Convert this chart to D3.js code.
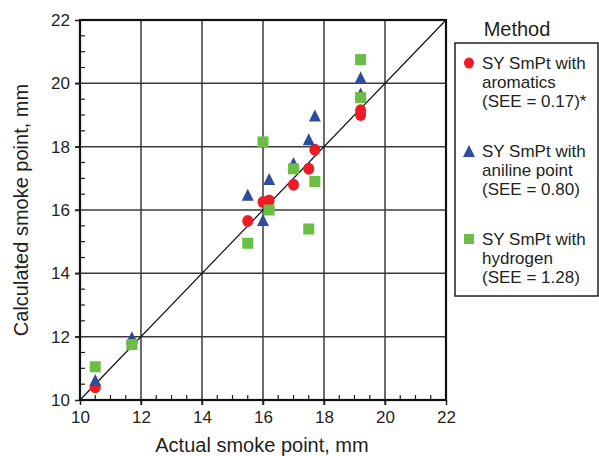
<!DOCTYPE html>
<html>
<head>
<meta charset="utf-8">
<script src="https://cdn.jsdelivr.net/npm/d3@7/dist/d3.min.js"></script>
<style>
  body { margin: 0; background: #fff; }
  text { font-family: "Liberation Sans", Arial, sans-serif; fill: #231f20; }
</style>
</head>
<body>
<script>
// actual smoke point (same for all three methods)
var actual = [10.5, 11.7, 15.5, 16.0, 16.2, 17.0, 17.5, 17.7, 19.2, 19.2];

// calculated smoke point per method
var aromatics = [10.4, 11.8, 15.65, 16.25, 16.3, 16.8, 17.3, 17.9, 19.15, 19.0];
var aniline   = [10.6, 11.95, 16.45, 15.65, 16.95, 17.45, 18.2, 18.95, 20.15, 19.65];
var hydrogen  = [11.05, 11.75, 14.95, 18.15, 16.0, 17.3, 15.4, 16.9, 20.75, 19.55];

var axisTicks = [10, 12, 14, 16, 18, 20, 22];
var legendLabels = [
  ["SY SmPt with", "aromatics", "(SEE = 0.17)*"],
  ["SY SmPt with", "aniline point", "(SEE = 0.80)"],
  ["SY SmPt with", "hydrogen", "(SEE = 1.28)"]
];

var W = 599, H = 456;
// plot box (don't call it "top", that's window.top)
var pL = 80, pR = 446, pT = 20, pB = 400;

var svg = d3.select("body").append("svg")
  .attr("width", W).attr("height", H);

var x = d3.scaleLinear().domain([10, 22]).range([pL, pR]);
var y = d3.scaleLinear().domain([10, 22]).range([pB, pT]);

//minor ticks every 0.5, skipping the majors
var minor = d3.range(10.5, 22, 0.5).filter(function(v) { return v % 2 != 0; });

// grid
svg.append("g").selectAll("line")
  .data(axisTicks.slice(1, -1)).enter().append("line")
  .attr("x1", function(d) { return x(d); }).attr("x2", function(d) { return x(d); })
  .attr("y1", pT).attr("y2", pB + 5)
  .attr("stroke", "#3a3a3a").attr("stroke-width", 1.5);
svg.append("g").selectAll("line")
  .data(axisTicks.slice(1, -1)).enter().append("line")
  .attr("y1", function(d) { return y(d); }).attr("y2", function(d) { return y(d); })
  .attr("x1", pL - 5).attr("x2", pR)
  .attr("stroke", "#3a3a3a").attr("stroke-width", 1.5);

// axes (major ticks out, labels)
var xAxis = svg.append("g").attr("transform", "translate(0," + pB + ")")
  .call(d3.axisBottom(x).tickValues(axisTicks).tickSize(5).tickPadding(6).tickFormat(d3.format("d")));
var yAxis = svg.append("g").attr("transform", "translate(" + pL + ",0)")
  .call(d3.axisLeft(y).tickValues(axisTicks).tickSize(5).tickPadding(5).tickFormat(d3.format("d")));
[xAxis, yAxis].forEach(function(g) {
  g.select(".domain").remove();
  g.selectAll(".tick line").attr("stroke", "#231f20").attr("stroke-width", 1.5);
  g.selectAll(".tick text").style("font-size", "17px")
    .style("font-family", "Liberation Sans, Arial, sans-serif").attr("fill", "#231f20");
});

// minor ticks pointing inward
svg.append("g").selectAll("line")
  .data(minor).enter().append("line")
  .attr("x1", function(d) { return x(d); }).attr("x2", function(d) { return x(d); })
  .attr("y1", pB).attr("y2", pB - 5)
  .attr("stroke", "#231f20").attr("stroke-width", 1.2);
svg.append("g").selectAll("line")
  .data(minor).enter().append("line")
  .attr("y1", function(d) { return y(d); }).attr("y2", function(d) { return y(d); })
  .attr("x1", pL).attr("x2", pL + 5)
  .attr("stroke", "#231f20").attr("stroke-width", 1.2);

// frame
svg.append("rect")
  .attr("x", pL).attr("y", pT)
  .attr("width", pR - pL).attr("height", pB - pT)
  .attr("fill", "none").attr("stroke", "#111").attr("stroke-width", 2.2);

// 1:1 line
svg.append("line")
  .attr("x1", x(10)).attr("y1", y(10)).attr("x2", x(22)).attr("y2", y(22))
  .attr("stroke", "#111").attr("stroke-width", 1.2);

var red = "#ec1c24", blue = "#2d4d9c", green = "#6cbd45";

function pts(vals) {
  return vals.map(function(v, i) { return [actual[i], v]; });
}

svg.append("g").selectAll("ellipse")
  .data(pts(aromatics)).enter().append("ellipse")
  .attr("cx", function(d) { return x(d[0]); })
  .attr("cy", function(d) { return y(d[1]); })
  .attr("rx", 5.5).attr("ry", 6)
  .attr("fill", red);

var tri = "M0,-7L6,5L-6,5Z";
svg.append("g").selectAll("path")
  .data(pts(aniline)).enter().append("path")
  .attr("d", tri)
  .attr("transform", function(d) { return "translate(" + x(d[0]) + "," + y(d[1]) + ")"; })
  .attr("fill", blue);

svg.append("g").selectAll("rect")
  .data(pts(hydrogen)).enter().append("rect")
  .attr("x", function(d) { return x(d[0]) - 5.5; })
  .attr("y", function(d) { return y(d[1]) - 5.5; })
  .attr("width", 11).attr("height", 11)
  .attr("fill", green);

// axis titles
svg.append("text")
  .attr("x", (pL + pR) / 2 - 1).attr("y", 452)
  .attr("text-anchor", "middle").style("font-size", "20px")
  .text("Actual smoke point, mm");
svg.append("text")
  .attr("transform", "translate(28," + (pT + pB) / 2 + ") rotate(-90)")
  .attr("text-anchor", "middle").style("font-size", "20px")
  .text("Calculated smoke point, mm");

// legend
svg.append("text")
  .attr("x", 517).attr("y", 36)
  .attr("text-anchor", "middle").style("font-size", "20px")
  .text("Method");
svg.append("rect")
  .attr("x", 455).attr("y", 43).attr("width", 143).attr("height", 253)
  .attr("fill", "none").attr("stroke", "#231f20").attr("stroke-width", 1.5);

var entryY = [63, 151, 239];
var lg = svg.append("g").selectAll("g")
  .data(legendLabels).enter().append("g")
  .attr("transform", function(d, i) { return "translate(0," + entryY[i] + ")"; });
lg.each(function(d, i) {
  var g = d3.select(this);
  if (i == 0) g.append("ellipse").attr("cx", 469).attr("cy", 0).attr("rx", 5).attr("ry", 5.5).attr("fill", red);
  if (i == 1) g.append("path").attr("d", tri).attr("transform", "translate(469,1)").attr("fill", blue);
  if (i == 2) g.append("rect").attr("x", 464).attr("y", -5).attr("width", 10).attr("height", 10).attr("fill", green);
  g.selectAll("text").data(d).enter().append("text")
    .attr("x", 482)
    .attr("y", function(t, j) { return 6 + j * 19; })
    .style("font-size", "17px")
    .text(function(t) { return t; });
});
</script>
</body>
</html>
